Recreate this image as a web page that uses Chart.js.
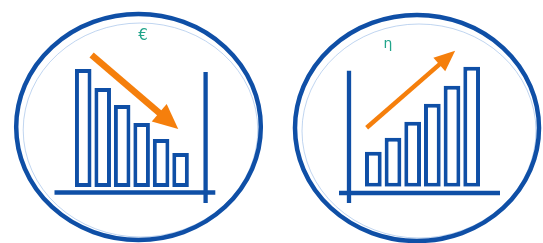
<!DOCTYPE html>
<html>
<head>
<meta charset="utf-8">
<script src="https://cdn.jsdelivr.net/npm/chart.js@4.4.1/dist/chart.umd.min.js"></script>
<style>
  body { margin: 0; background: #fff; }
  .panel { position: absolute; top: 0; height: 243px; }
</style>
</head>
<body>
<div class="panel" style="left:0;width:272px"><canvas id="costChart" width="272" height="243"></canvas></div>
<div class="panel" style="left:272px;width:271px"><canvas id="effChart" width="271" height="243"></canvas></div>
<script>
// bar categories and heights (same unit on both charts)
const barLabels = ['1', '2', '3', '4', '5', '6'];
const costValues = [118, 99, 82, 64, 48, 34];
const efficiencyValues = [35, 49, 65, 83, 101, 120];
// trend arrows, as [category index, value] start and end
const costArrow = [[0.43, 132], [4.88, 58]];
const efficiencyArrow = [[-0.34, 59], [4.16, 136]];
const symbols = ['€', 'η'];

const BLUE = '#0f4fa6';
const ORANGE = '#f57f0c';
const TEAL = '#22a58b';

function drawArrow(ctx, x0, y0, x1, y1, shaft, headLen, headW) {
    const a = Math.atan2(y1 - y0, x1 - x0);
    const bx = x1 - headLen * Math.cos(a), by = y1 - headLen * Math.sin(a);
    ctx.save();
    ctx.strokeStyle = ORANGE;
    ctx.fillStyle = ORANGE;
    ctx.lineWidth = shaft;
    ctx.beginPath();
    ctx.moveTo(x0, y0);
    ctx.lineTo(bx + Math.cos(a), by + Math.sin(a));
    ctx.stroke();
    ctx.beginPath();
    ctx.moveTo(x1, y1);
    ctx.lineTo(bx + headW / 2 * Math.sin(a), by - headW / 2 * Math.cos(a));
    ctx.lineTo(bx - headW / 2 * Math.sin(a), by + headW / 2 * Math.cos(a));
    ctx.closePath();
    ctx.fill();
    ctx.restore();
}

// ring, axis lines, arrow and symbol around each bar chart
const iconPlugin = {
    id: 'icon',
    beforeDatasetsDraw(chart, args, o) {
        const ctx = chart.ctx;
        const {left, right, top, bottom} = chart.chartArea;
        ctx.save();
        ctx.strokeStyle = 'rgba(150,185,230,0.6)';
        ctx.lineWidth = 1;
        ctx.beginPath();
        ctx.ellipse(o.ring[0] + 2, o.ring[1] + 3, o.ring[2] - 5, o.ring[3] - 6, 0, 0, Math.PI * 2);
        ctx.stroke();
        ctx.strokeStyle = BLUE;
        ctx.lineWidth = 4.5;
        ctx.beginPath();
        ctx.ellipse(o.ring[0], o.ring[1], o.ring[2], o.ring[3], 0, 0, Math.PI * 2);
        ctx.stroke();
        // axis lines
        ctx.lineWidth = 4.3;
        ctx.beginPath();
        ctx.moveTo(left + o.base[0], bottom + o.base[2]);
        ctx.lineTo(right + o.base[1], bottom + o.base[2]);
        ctx.stroke();
        const vx = o.vAxis[0] < 0 ? left + o.vAxis[0] : right + o.vAxis[0];
        ctx.beginPath();
        ctx.moveTo(vx, top + o.vAxis[1]);
        ctx.lineTo(vx, bottom + o.vAxis[2]);
        ctx.stroke();
        ctx.restore();
    },
    afterDatasetsDraw(chart, args, o) {
        const ctx = chart.ctx;
        const xs = chart.scales.x, ys = chart.scales.y;
        const px = v => xs.getPixelForValue(0) + v * (xs.getPixelForValue(1) - xs.getPixelForValue(0));
        const [p0, p1] = o.arrow;
        drawArrow(ctx, px(p0[0]), ys.getPixelForValue(p0[1]), px(p1[0]), ys.getPixelForValue(p1[1]),
            o.shaft, o.headLen, o.headW);
        ctx.save();
        ctx.fillStyle = TEAL;
        ctx.font = o.font;
        ctx.textAlign = 'center';
        ctx.textBaseline = 'alphabetic';
        ctx.fillText(o.symbol, o.symPos[0], o.symPos[1]);
        ctx.restore();
    }
};

function makeChart(id, values, pad, icon) {
    return new Chart(document.getElementById(id), {
        type: 'bar',
        data: {
            labels: barLabels,
            datasets: [{
                data: values,
                backgroundColor: '#ffffff',
                borderColor: BLUE,
                borderWidth: 4,
                borderSkipped: false,
                barPercentage: 0.85,
                categoryPercentage: 1
            }]
        },
        options: {
            responsive: false,
            animation: false,
            events: [],
            layout: { padding: pad },
            plugins: {
                legend: { display: false },
                tooltip: { enabled: false },
                icon: icon
            },
            scales: {
                x: { display: false },
                y: { display: false, min: 0, max: 160 }
            }
        },
        plugins: [iconPlugin]
    });
}

makeChart('costChart', costValues,
    { left: 73.5, right: 81.7, top: 27, bottom: 56 },
    {
        ring: [138.5, 127, 122.3, 113],
        base: [-19, 25, 5.5],
        vAxis: [15.3, 45, 16],
        arrow: costArrow, shaft: 6.5, headLen: 25, headW: 23,
        symbol: symbols[0], font: '15px "DejaVu Sans"', symPos: [143, 39.5]
    });

makeChart('effChart', efficiencyValues,
    { left: 91.5, right: 61.5, top: 26.7, bottom: 56.3 },
    {
        ring: [145, 128, 122, 113],
        base: [-24.5, 18.5, 6.3],
        vAxis: [-14.5, 44, 16.3],
        arrow: efficiencyArrow, shaft: 4.5, headLen: 21, headW: 18,
        symbol: symbols[1], font: '14px "DejaVu Sans"', symPos: [116, 48]
    });
</script>
</body>
</html>
